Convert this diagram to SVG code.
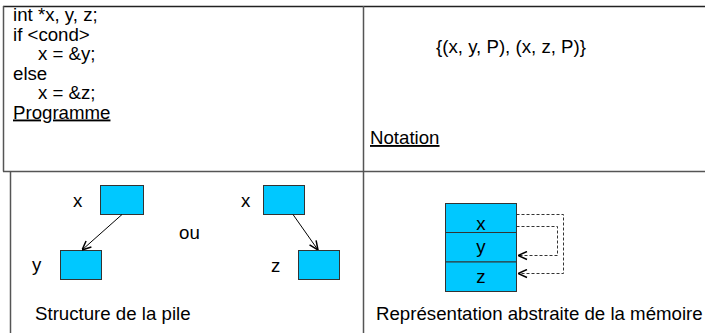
<svg xmlns="http://www.w3.org/2000/svg" width="705" height="333" viewBox="0 0 705 333">
<style>
text{font-family:"Liberation Sans",Arial,sans-serif;font-size:18.67px;fill:#000}
.grid{stroke:#555;stroke-width:1.5;fill:none}
.box{fill:#00C8FF;stroke:#333;stroke-width:1}
.arr{stroke:#000;stroke-width:1;fill:none}
.dash{stroke:#333;stroke-width:1;fill:none;stroke-dasharray:3,2}
.u{text-decoration:underline}
</style>
<defs>
<marker id="ah" viewBox="0 0 10 10" refX="10" refY="5" markerWidth="10" markerHeight="10" markerUnits="userSpaceOnUse" orient="auto">
<path d="M1,1 L10,5 L1,9" fill="none" stroke="#000" stroke-width="1.5"/>
</marker>
</defs>
<g id="table">
<line class="grid" x1="3" y1="6.5" x2="705" y2="6.5" style="stroke:#222"/>
<line class="grid" x1="3" y1="171.5" x2="705" y2="171.5"/>
<line class="grid" x1="3.5" y1="6" x2="3.5" y2="171.5"/>
<line class="grid" x1="10.5" y1="171.5" x2="10.5" y2="333"/>
<line class="grid" x1="363.5" y1="6" x2="363.5" y2="333"/>
</g>
<g id="programme">
<text x="13" y="21">int *x, y, z;</text>
<text x="13" y="40.5">if &lt;cond&gt;</text>
<text x="38" y="60">x = &amp;y;</text>
<text x="13" y="79.5">else</text>
<text x="38" y="99">x = &amp;z;</text>
<text x="13" y="118.5" class="u">Programme</text>
</g>
<g id="notation">
<text x="436" y="53">{(x, y, P), (x, z, P)}</text>
<text x="370" y="144" class="u">Notation</text>
</g>
<g id="pile">
<g id="px1"><rect class="box" x="100.5" y="185.5" width="43" height="29"/><text x="73" y="207">x</text></g>
<g id="py"><rect class="box" x="60.5" y="250.5" width="41" height="29"/><text x="32" y="271">y</text></g>
<text id="ou" x="179" y="239">ou</text>
<g id="px2"><rect class="box" x="263.5" y="185.5" width="41" height="29"/><text x="241" y="207">x</text></g>
<g id="pz"><rect class="box" x="298.5" y="250.5" width="41" height="29"/><text x="271" y="272">z</text></g>
<text x="35" y="320">Structure de la pile</text>
</g>
<g id="memoire">
<g id="mx"><rect class="box" x="445.5" y="203.5" width="71" height="29"/><text x="481" y="230" text-anchor="middle">x</text></g>
<g id="my"><rect class="box" x="445.5" y="232.5" width="71" height="29.5"/><text x="481" y="253" text-anchor="middle">y</text></g>
<g id="mz"><rect class="box" x="445.5" y="262" width="71" height="29.5"/><text x="481" y="283" text-anchor="middle">z</text></g>
<text x="376" y="320">Représentation abstraite de la mémoire</text>
</g>
<g id="connectors">
<line class="arr" x1="122" y1="214.5" x2="82" y2="250" marker-end="url(#ah)"/>
<line class="arr" x1="293" y1="214.5" x2="318" y2="250" marker-end="url(#ah)"/>
<polyline class="dash" points="516.5,214.5 563.5,214.5 563.5,273.5 518,273.5" marker-end="url(#ah)"/>
<polyline class="dash" points="516.5,226.5 557.5,226.5 557.5,255.5 518,255.5" marker-end="url(#ah)"/>
</g>
</svg>
